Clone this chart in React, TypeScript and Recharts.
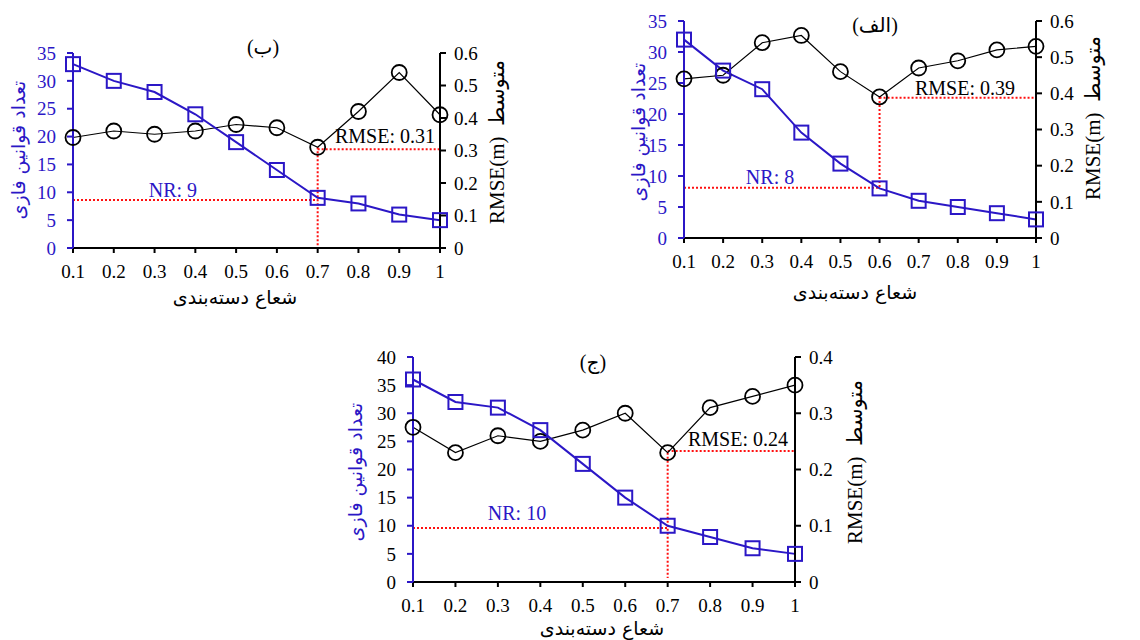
import React from 'react';
import { LineChart, Line, XAxis, YAxis, ReferenceLine, ReferenceDot } from 'recharts';

const RADIUS = [0.1, 0.2, 0.3, 0.4, 0.5, 0.6, 0.7, 0.8, 0.9, 1];
const NR_B = [33, 30, 28, 24, 19, 14, 9, 8, 6, 5];
const RMSE_B = [0.34, 0.36, 0.35, 0.36, 0.38, 0.37, 0.31, 0.42, 0.54, 0.41];
const NR_ALEF = [32, 27, 24, 17, 12, 8, 6, 5, 4, 3];
const RMSE_ALEF = [0.44, 0.45, 0.54, 0.56, 0.46, 0.39, 0.47, 0.49, 0.52, 0.53];
const NR_JIM = [36, 32, 31, 27, 21, 15, 10, 8, 6, 5];
const RMSE_JIM = [0.275, 0.23, 0.26, 0.25, 0.27, 0.3, 0.23, 0.31, 0.33, 0.35];
const LEFT_TICKS_35 = [0, 5, 10, 15, 20, 25, 30, 35];
const LEFT_TICKS_40 = [0, 5, 10, 15, 20, 25, 30, 35, 40];
const RIGHT_TICKS_06 = [0, 0.1, 0.2, 0.3, 0.4, 0.5, 0.6];
const RIGHT_TICKS_04 = [0, 0.1, 0.2, 0.3, 0.4];

const LEFT_TITLE = 'تعداد قوانین فازی';
const RIGHT_TITLE = 'RMSE(m)  متوسط';
const X_TITLE = 'شعاع دسته‌بندی';

const BLUE = '#2b17c6';
const RED = '#ff1010';
const SERIF = '"Liberation Serif", "Times New Roman", serif';
const ARABIC = '"DejaVu Sans", "Noto Sans", sans-serif';
const MIXED = '"Liberation Serif", "DejaVu Sans", serif';

const LW = 40;
const RW = 50;
const XH = 40;

function build(nr: number[], rmse: number[]) {
  return RADIUS.map((r, i) => ({ r, nr: nr[i], rmse: rmse[i] }));
}

const SquareDot = (props: any) => {
  const { cx, cy, index } = props;
  if (cx == null || cy == null) return <g key={index} />;
  return <rect key={index} x={cx - 7} y={cy - 7} width={14} height={14} fill="none" stroke={BLUE} strokeWidth={2} />;
};
const CircleDot = (props: any) => {
  const { cx, cy, index } = props;
  if (cx == null || cy == null) return <g key={index} />;
  return <circle key={index} cx={cx} cy={cy} r={7.5} fill="none" stroke="#000" strokeWidth={1.8} />;
};

function Panel(p: any) {
  const { box, plot } = p;
  const data = build(p.nr, p.rmse);
  const margin = {
    left: plot.x0 - LW,
    right: box.w - plot.x1 - RW,
    top: plot.y0,
    bottom: box.h - plot.y1 - XH,
  };
  return (
    <div style={{ position: 'absolute', left: box.x, top: box.y, width: box.w, height: box.h }}>
      <LineChart width={box.w} height={box.h} data={data} margin={margin}>
        <XAxis
          dataKey="r"
          type="number"
          domain={[0.1, 1]}
          ticks={RADIUS}
          tickFormatter={(v: number) => (v === 1 ? '1' : v.toFixed(1))}
          height={XH}
          axisLine={{ stroke: '#000', strokeWidth: 2 }}
          tickLine={{ stroke: '#000', strokeWidth: 2 }}
          tickSize={5}
          tickMargin={12}
          tick={{ fill: '#000', fontSize: 19, fontFamily: SERIF }}
          interval={0}
        />
        <YAxis
          yAxisId="left"
          domain={[0, p.leftMax]}
          ticks={p.leftTicks}
          width={LW}
          axisLine={{ stroke: BLUE, strokeWidth: 2 }}
          tickLine={{ stroke: BLUE, strokeWidth: 2 }}
          tickSize={6}
          tickMargin={11}
          tick={{ fill: p.leftTickColor, fontSize: 19, fontFamily: SERIF }}
          interval={0}
        />
        <YAxis
          yAxisId="right"
          orientation="right"
          domain={[0, p.rightMax]}
          ticks={p.rightTicks}
          tickFormatter={(v: number) => (v === 0 ? '0' : v.toFixed(1))}
          width={RW}
          axisLine={{ stroke: '#000', strokeWidth: 2 }}
          tickLine={{ stroke: '#000', strokeWidth: 2 }}
          tickSize={6}
          tickMargin={8}
          tick={{ fill: '#000', fontSize: 19, fontFamily: SERIF }}
          interval={0}
        />
        <ReferenceLine
          yAxisId="left"
          segment={[{ x: 0.1, y: p.nrLine }, { x: p.sel, y: p.nrLine }]}
          stroke={RED}
          strokeWidth={2}
          strokeDasharray="2 2"
          ifOverflow="visible"
        />
        <ReferenceLine
          yAxisId="right"
          segment={[{ x: p.sel, y: p.rmseLine }, { x: 1, y: p.rmseLine }]}
          stroke={RED}
          strokeWidth={2}
          strokeDasharray="2 2"
          ifOverflow="visible"
        />
        <ReferenceLine
          yAxisId="right"
          segment={[{ x: p.sel, y: p.rmseSel }, { x: p.sel, y: p.vBottom }]}
          stroke={RED}
          strokeWidth={2}
          strokeDasharray="2 2"
          ifOverflow="visible"
        />
        <Line
          yAxisId="right"
          dataKey="rmse"
          stroke="#000"
          strokeWidth={1.2}
          dot={CircleDot}
          isAnimationActive={false}
        />
        <Line
          yAxisId="left"
          dataKey="nr"
          stroke={BLUE}
          strokeWidth={2}
          dot={SquareDot}
          isAnimationActive={false}
        />
        <ReferenceDot
          yAxisId="left"
          x={p.nrPos[0]}
          y={p.nrPos[1]}
          r={1}
          fill="none"
          stroke="none"
          ifOverflow="visible"
          label={{ value: p.nrLabel, position: 'center', fill: BLUE, fontSize: 20, fontFamily: SERIF }}
        />
        <ReferenceDot
          yAxisId="right"
          x={1}
          y={p.rmsePos}
          r={1}
          fill="none"
          stroke="none"
          ifOverflow="visible"
          label={{ value: p.rmseLabel, position: 'left', offset: p.rmseOffset, fill: '#000', fontSize: 20, fontFamily: SERIF }}
        />
      </LineChart>
    </div>
  );
}

function Txt(p: any) {
  return (
    <div
      style={{
        position: 'absolute',
        left: p.x,
        top: p.y,
        transform: `translate(-50%, -50%) rotate(${p.rot || 0}deg)`,
        whiteSpace: 'pre',
        fontFamily: p.font || ARABIC,
        fontSize: p.size || 19,
        color: p.color || '#000',
        lineHeight: 1,
      }}
    >
      {p.children}
    </div>
  );
}

export default function App() {
  return (
    <div style={{ position: 'absolute', left: 0, top: 0, width: 1140, height: 640, background: '#fff', overflow: 'hidden' }}>
      <Panel
        box={{ x: 0, y: 0, w: 560, h: 320 }}
        plot={{ x0: 73, x1: 440, y0: 53, y1: 248 }}
        nr={NR_B}
        rmse={RMSE_B}
        leftMax={35}
        leftTicks={LEFT_TICKS_35}
        rightMax={0.6}
        rightTicks={RIGHT_TICKS_06}
        leftTickColor={BLUE}
        sel={0.7}
        nrLine={8.6}
        rmseLine={0.304}
        rmseSel={0.31}
        vBottom={0}
        nrLabel="NR: 9"
        nrPos={[0.345, 10.4]}
        rmseLabel="RMSE: 0.31"
        rmsePos={0.345}
        rmseOffset={4}
      />
      <Panel
        box={{ x: 580, y: 0, w: 560, h: 320 }}
        plot={{ x0: 104, x1: 456, y0: 21, y1: 238 }}
        nr={NR_ALEF}
        rmse={RMSE_ALEF}
        leftMax={35}
        leftTicks={LEFT_TICKS_35}
        rightMax={0.6}
        rightTicks={RIGHT_TICKS_06}
        leftTickColor={BLUE}
        sel={0.6}
        nrLine={8.1}
        rmseLine={0.388}
        rmseSel={0.39}
        vBottom={0.137}
        nrLabel="NR: 8"
        nrPos={[0.32, 9.9]}
        rmseLabel="RMSE: 0.39"
        rmsePos={0.414}
        rmseOffset={20}
      />
      <Panel
        box={{ x: 330, y: 330, w: 560, h: 310 }}
        plot={{ x0: 83, x1: 465, y0: 27, y1: 252 }}
        nr={NR_JIM}
        rmse={RMSE_JIM}
        leftMax={40}
        leftTicks={LEFT_TICKS_40}
        rightMax={0.4}
        rightTicks={RIGHT_TICKS_04}
        leftTickColor="#000"
        sel={0.7}
        nrLine={9.6}
        rmseLine={0.233}
        rmseSel={0.23}
        vBottom={0.007}
        nrLabel="NR: 10"
        nrPos={[0.345, 12.2]}
        rmseLabel="RMSE: 0.24"
        rmsePos={0.254}
        rmseOffset={6}
      />

      <Txt x={263} y={47} font={MIXED} size={20}>(ب)</Txt>
      <Txt x={18} y={150} rot={-90} color={BLUE}>{LEFT_TITLE}</Txt>
      <Txt x={497} y={142} rot={-90} font={MIXED} size={21}>{RIGHT_TITLE}</Txt>
      <Txt x={235} y={297}>{X_TITLE}</Txt>

      <Txt x={875} y={25} font={MIXED} size={20}>(الف)</Txt>
      <Txt x={638} y={132} rot={-90} color={BLUE}>{LEFT_TITLE}</Txt>
      <Txt x={1093} y={118} rot={-90} font={MIXED} size={21}>{RIGHT_TITLE}</Txt>
      <Txt x={855} y={292}>{X_TITLE}</Txt>

      <Txt x={593} y={362} font={MIXED} size={20}>(ج)</Txt>
      <Txt x={355} y={472} rot={-90} color={BLUE}>{LEFT_TITLE}</Txt>
      <Txt x={855} y={462} rot={-90} font={MIXED} size={21}>{RIGHT_TITLE}</Txt>
      <Txt x={602} y={628}>{X_TITLE}</Txt>
    </div>
  );
}
